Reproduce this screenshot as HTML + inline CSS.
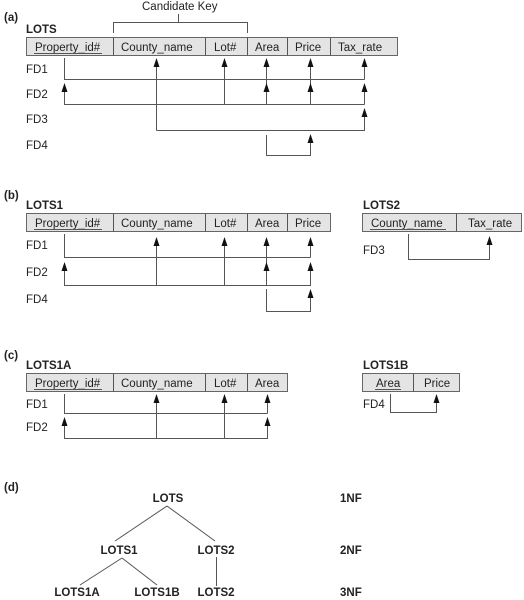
<!DOCTYPE html>
<html><head><meta charset="utf-8"><style>
html,body{margin:0;padding:0;background:#fff;}
svg{display:block;}
text{font-family:"Liberation Sans",sans-serif;fill:#222;}
.h{font-size:11.5px;}
.b{font-size:11.5px;font-weight:bold;}
.l{stroke:#555;stroke-width:1;fill:none;}
.a{fill:#111;}
.box{fill:#e4e4e4;stroke:#666;stroke-width:1;}
</style></head><body>
<svg width="524" height="600" viewBox="0 0 524 600" xmlns="http://www.w3.org/2000/svg">
<defs>
<polygon id="ar" points="0,0 -3,9 3,9" class="a"/>
</defs>

<!-- (a) -->
<text class="b" x="4" y="21">(a)</text>
<text class="h" x="142" y="10">Candidate Key</text>
<path class="l" d="M113.5,33 V22.5 H247.5 V33 M178.5,22.5 V14"/>
<text class="b" x="26" y="33">LOTS</text>
<rect class="box" x="26.5" y="37.5" width="371" height="18"/>
<path class="l" d="M113.5,37.5V55.5M205.5,37.5V55.5M247.5,37.5V55.5M287.5,37.5V55.5M330.5,37.5V55.5"/>
<text class="h" x="35" y="51">Property_id#</text>
<path class="l" d="M34,53.5H102"/>
<text class="h" x="121" y="51">County_name</text>
<text class="h" x="214" y="51">Lot#</text>
<text class="h" x="255" y="51">Area</text>
<text class="h" x="295" y="51">Price</text>
<text class="h" x="338" y="51">Tax_rate</text>
<text class="h" x="26" y="73">FD1</text>
<text class="h" x="26" y="98">FD2</text>
<text class="h" x="26" y="123">FD3</text>
<text class="h" x="26" y="149">FD4</text>
<!-- FD1 -->
<path class="l" d="M64.5,58V79.5H364.5M156.5,66V130.5M224.5,66V104.5M266.5,66V104.5M310.5,66V104.5M364.5,66V79.5"/>
<use href="#ar" x="156.5" y="58"/><use href="#ar" x="224.5" y="58"/><use href="#ar" x="266.5" y="58"/><use href="#ar" x="310.5" y="58"/><use href="#ar" x="364.5" y="58"/>
<!-- FD2 -->
<path class="l" d="M64.5,91V104.5H364.5M364.5,91V104.5"/>
<use href="#ar" x="64.5" y="83"/><use href="#ar" x="266.5" y="83"/><use href="#ar" x="310.5" y="83"/><use href="#ar" x="364.5" y="83"/>
<!-- FD3 -->
<path class="l" d="M156.5,130.5H364.5V116"/>
<use href="#ar" x="364.5" y="108"/>
<!-- FD4 -->
<path class="l" d="M266.5,135V155.5H310.5V142"/>
<use href="#ar" x="310.5" y="134"/>

<!-- (b) -->
<text class="b" x="4" y="199">(b)</text>
<text class="b" x="26" y="209">LOTS1</text>
<rect class="box" x="26.5" y="213.5" width="304" height="18"/>
<path class="l" d="M113.5,213.5V231.5M205.5,213.5V231.5M247.5,213.5V231.5M287.5,213.5V231.5"/>
<text class="h" x="35" y="227">Property_id#</text>
<path class="l" d="M34,229.5H102"/>
<text class="h" x="121" y="227">County_name</text>
<text class="h" x="214" y="227">Lot#</text>
<text class="h" x="255" y="227">Area</text>
<text class="h" x="295" y="227">Price</text>
<text class="h" x="26" y="249">FD1</text>
<text class="h" x="26" y="276">FD2</text>
<text class="h" x="26" y="303">FD4</text>
<path class="l" d="M64.5,234V257.5H310.5M156.5,245V285.5M224.5,245V285.5M266.5,245V285.5M310.5,245V257.5"/>
<use href="#ar" x="156.5" y="237"/><use href="#ar" x="224.5" y="237"/><use href="#ar" x="266.5" y="237"/><use href="#ar" x="310.5" y="237"/>
<path class="l" d="M64.5,270V285.5H310.5V270"/>
<use href="#ar" x="64.5" y="262"/><use href="#ar" x="266.5" y="262"/><use href="#ar" x="310.5" y="262"/>
<path class="l" d="M266.5,289V311.5H310.5V297"/>
<use href="#ar" x="310.5" y="289"/>

<text class="b" x="363" y="209">LOTS2</text>
<rect class="box" x="362.5" y="213.5" width="159" height="18"/>
<path class="l" d="M456.5,213.5V231.5"/>
<text class="h" x="371" y="227">County_name</text>
<path class="l" d="M370,229.5H446"/>
<text class="h" x="468" y="227">Tax_rate</text>
<text class="h" x="363" y="254">FD3</text>
<path class="l" d="M408.5,234V259.5H489.5V244"/>
<use href="#ar" x="489.5" y="236"/>

<!-- (c) -->
<text class="b" x="4" y="359">(c)</text>
<text class="b" x="26" y="369">LOTS1A</text>
<rect class="box" x="26.5" y="373.5" width="261" height="18"/>
<path class="l" d="M113.5,373.5V391.5M205.5,373.5V391.5M247.5,373.5V391.5"/>
<text class="h" x="35" y="387">Property_id#</text>
<path class="l" d="M34,389.5H102"/>
<text class="h" x="121" y="387">County_name</text>
<text class="h" x="214" y="387">Lot#</text>
<text class="h" x="255" y="387">Area</text>
<text class="h" x="26" y="408">FD1</text>
<text class="h" x="26" y="431">FD2</text>
<path class="l" d="M64.5,394V413.5H267.5M156.5,402V438.5M224.5,402V438.5M267.5,402V413.5"/>
<use href="#ar" x="156.5" y="394"/><use href="#ar" x="224.5" y="394"/><use href="#ar" x="267.5" y="394"/>
<path class="l" d="M64.5,425V438.5H267.5V425"/>
<use href="#ar" x="64.5" y="417"/><use href="#ar" x="267.5" y="417"/>

<text class="b" x="363" y="369">LOTS1B</text>
<rect class="box" x="362.5" y="373.5" width="97" height="18"/>
<path class="l" d="M413.5,373.5V391.5"/>
<text class="h" x="376" y="387">Area</text>
<path class="l" d="M375,389.5H401"/>
<text class="h" x="424" y="387">Price</text>
<text class="h" x="363" y="408">FD4</text>
<path class="l" d="M390.5,394V412.5H436.5V402"/>
<use href="#ar" x="436.5" y="394"/>

<!-- (d) -->
<text class="b" x="4" y="491">(d)</text>
<text class="b" x="168" y="502" text-anchor="middle">LOTS</text>
<text class="b" x="119" y="554" text-anchor="middle">LOTS1</text>
<text class="b" x="216" y="554" text-anchor="middle">LOTS2</text>
<text class="b" x="77" y="596" text-anchor="middle">LOTS1A</text>
<text class="b" x="157" y="596" text-anchor="middle">LOTS1B</text>
<text class="b" x="216" y="596" text-anchor="middle">LOTS2</text>
<text class="b" x="340" y="502">1NF</text>
<text class="b" x="340" y="554">2NF</text>
<text class="b" x="340" y="596">3NF</text>
<path class="l" d="M167,506L115,541M167,506L215,541M122,558L80,585M122,558L157,585M216.5,557V586"/>
</svg>
</body></html>
